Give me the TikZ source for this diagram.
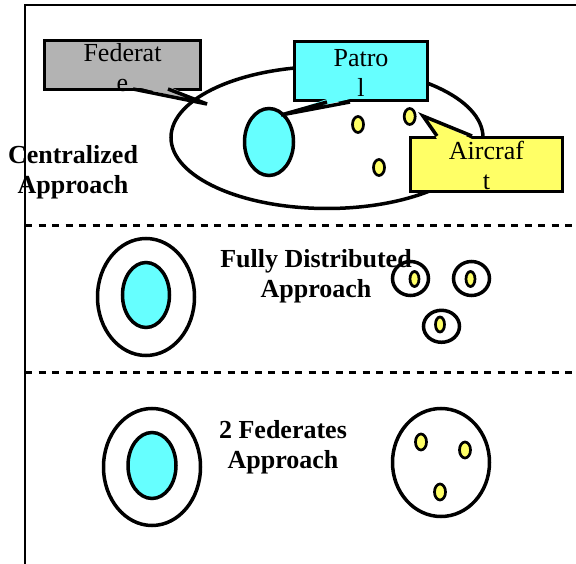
\documentclass[tikz,border=0pt]{standalone}
\usepackage{fontspec}
\setmainfont{Liberation Serif}
\usetikzlibrary{shapes.geometric}
\definecolor{cyanf}{HTML}{66FFFF}
\definecolor{yellowf}{HTML}{FFFF66}
\definecolor{grayf}{HTML}{B3B3B3}
\begin{document}
\begin{tikzpicture}[x=1pt,y=-1pt,
  box/.style={draw=black,line width=3.5pt,inner sep=0pt},
  boxtext/.style={inner sep=0pt,align=center,font=\fontsize{26}{30}\selectfont},
  lbl/.style={align=center,font=\bfseries\fontsize{26}{30}\selectfont,inner sep=0pt},
  oval/.style={ellipse,draw=black,line width=3.5pt,inner sep=0pt},
  craft/.style={ellipse,draw=black,line width=2.7pt,fill=yellowf,inner sep=0pt,minimum width=11pt,minimum height=16pt},
  smallcraft/.style={ellipse,draw=black,line width=2.7pt,fill=yellowf,inner sep=0pt,minimum width=9pt,minimum height=15pt},
  wedge/.style={line width=3.5pt,line join=miter},
  dashline/.style={line width=3pt,dash pattern=on 7pt off 6.5pt}
]
\useasboundingbox (0,0) rectangle (576,564);
\fill[white] (0,0) rectangle (576,564);

% frame
\coordinate (fbl) at (25,564);
\coordinate (ftl) at (25,5);
\coordinate (ftr) at (576,5);
\draw[line width=1.8pt] (fbl) -- (ftl) -- (ftr);

% dashed separators
\coordinate (d1l) at (25,226);
\coordinate (d1r) at (576,226);
\coordinate (d2l) at (25,372);
\coordinate (d2r) at (576,372);
\draw[dashline] (d1l) -- (d1r);
\draw[dashline] (d2l) -- (d2r);

% ---------- Centralized ----------
\node[lbl] (cen) at (73,172) {Centralized\\Approach};

% Federate callout
\node[box,fill=grayf,minimum width=156pt,minimum height=49pt] (fed) at (122.5,65) {};
\coordinate (fedtip) at (207,104);
\coordinate (fedA) at (133,89);
\coordinate (fedB) at (168,89);
\fill[grayf] (133,86) -- (fedtip) -- (168,86) -- cycle;
\draw[wedge] (fedA) -- (fedtip) -- (fedB);
\node[boxtext] (fedt) at (122.5,68) {Federat\\e};

% big ellipse
\node[oval,minimum width=312pt,minimum height=142pt] (big) at (327,137.5) {};

% patrol ellipse
\node[oval,fill=cyanf,minimum width=49pt,minimum height=67pt] (pe) at (269,142) {};

% aircraft
\node[craft] (a1) at (358,124.5) {};
\node[craft] (a2) at (409.7,116.5) {};
\node[craft] (a3) at (379,167.5) {};

% Patrol callout
\node[box,fill=cyanf,minimum width=133pt,minimum height=59pt] (pat) at (361,71) {};
\coordinate (pattip) at (281,115);
\fill[cyanf] (327,99) -- (pattip) -- (350,99) -- cycle;
\draw[wedge] (327,102) -- (pattip) -- (350,102);
\node[boxtext] (patt) at (361,73) {Patro\\l};

% Aircraft callout
\node[box,fill=yellowf,minimum width=152pt,minimum height=54pt] (air) at (486.5,164.5) {};
\coordinate (airtip) at (423,116);
\fill[yellowf] (437,139) -- (airtip) -- (472,139) -- cycle;
\draw[wedge] (437,136) -- (airtip) -- (472,136);
\node[boxtext] (airt) at (486.5,165.5) {Aircraf\\t};

% ---------- Fully distributed ----------
\node[oval,minimum width=97pt,minimum height=117pt] (fdo) at (146,297) {};
\node[oval,fill=cyanf,minimum width=47pt,minimum height=65pt] (fdi) at (146,295) {};
\node[lbl] (fdl) at (316,276) {Fully Distributed\\Approach};
\node[oval,minimum width=36pt,minimum height=34pt] (r1) at (410.5,278.5) {};
\node[smallcraft] (s1) at (414.5,279) {};
\node[oval,minimum width=36pt,minimum height=34pt] (r2) at (471.5,278.5) {};
\node[smallcraft] (s2) at (470.5,279) {};
\node[oval,minimum width=36pt,minimum height=32pt] (r3) at (441.5,326.3) {};
\node[smallcraft] (s3) at (440,324.5) {};

% ---------- 2 Federates ----------
\node[oval,minimum width=97pt,minimum height=117pt] (tfo) at (152,467) {};
\node[oval,fill=cyanf,minimum width=48pt,minimum height=66pt] (tfi) at (152,465.5) {};
\node[lbl] (tfl) at (283,447) {2 Federates\\Approach};
\node[oval,minimum width=97pt,minimum height=108pt] (tfr) at (441,462.5) {};
\node[craft] (t1) at (421,442) {};
\node[craft] (t2) at (465,450) {};
\node[craft] (t3) at (440,492) {};
\end{tikzpicture}
\end{document}
